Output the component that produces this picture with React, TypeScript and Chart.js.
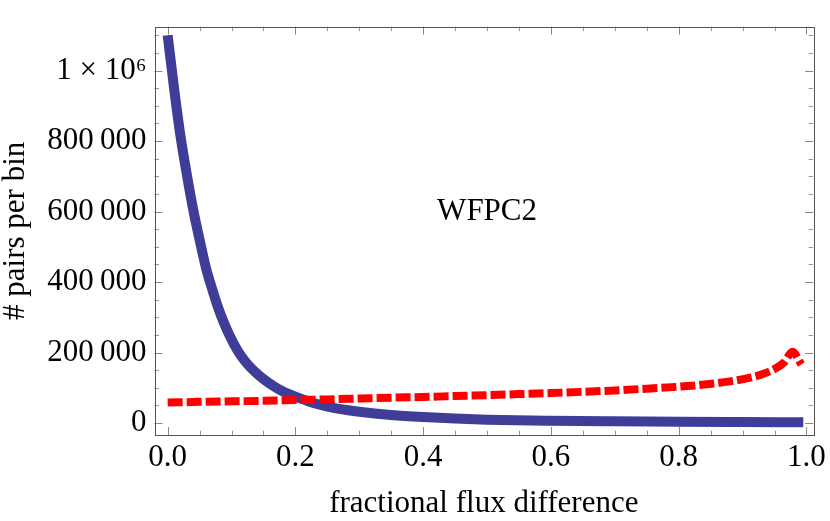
import React, { useEffect, useRef } from 'react';
import { Chart, registerables } from 'chart.js';

Chart.register(...registerables);

// ---- data ----
const blueX = [0, 0.01, 0.02, 0.03, 0.04, 0.05, 0.06, 0.07, 0.08, 0.09, 0.1, 0.11, 0.12, 0.13, 0.14, 0.15, 0.16, 0.17, 0.18, 0.19, 0.2, 0.22, 0.24, 0.26, 0.28, 0.3, 0.35, 0.4, 0.45, 0.5, 0.6, 0.7, 0.8, 0.9, 0.995];
const blueY = [1100000, 950000, 815000, 705000, 605000, 520000, 440000, 378000, 322000, 276000, 237000, 204000, 178000, 157000, 140000, 125000, 112000, 100000, 90000, 82000, 75000, 62000, 51000, 43000, 37000, 32000, 23000, 17000, 12500, 9500, 6500, 4800, 3600, 2700, 2000];

const redX = [0, 0.05, 0.1, 0.15, 0.2, 0.25, 0.3, 0.35, 0.4, 0.45, 0.5, 0.55, 0.6, 0.65, 0.7, 0.75, 0.8, 0.84, 0.88, 0.91, 0.93, 0.95, 0.965, 0.978, 0.992];
const redY = [58000, 60000, 61500, 63000, 65000, 67000, 69500, 72000, 74000, 76500, 79000, 82000, 85000, 88500, 92500, 97500, 103000, 109000, 118000, 128000, 138000, 153000, 172000, 202000, 166000];

const xMajorTicks = [0, 0.2, 0.4, 0.6, 0.8, 1.0];
const xTickLabels = ['0.0', '0.2', '0.4', '0.6', '0.8', '1.0'];
const xMinorTicks = [0.05, 0.1, 0.15, 0.25, 0.3, 0.35, 0.45, 0.5, 0.55, 0.65, 0.7, 0.75, 0.85, 0.9, 0.95];

const yMajorTicks = [0, 200000, 400000, 600000, 800000, 1000000];
const yTickLabels = ['0', '200\u2009000', '400\u2009000', '600\u2009000', '800\u2009000', '1 \u00d7 10\u2076'];
const yMinorTicks = [50000, 100000, 150000, 250000, 300000, 350000, 450000, 500000, 550000, 650000, 700000, 750000, 850000, 900000, 950000, 1050000, 1100000];

const xLimits = [-0.0206, 1.0104];
const yLimits = [-34000, 1124600];

const plotLabel = 'WFPC2';
const plotLabelPos = [0.5, 600000];

const xTitle = 'fractional flux difference';
const yTitle = '# pairs per bin';

const FONT = "'Liberation Serif', 'Times New Roman', serif";

const framePlugin = {
  id: 'mmaFrame',
  afterDatasetsDraw(chart: any) {
    const { ctx, chartArea: a, scales } = chart;
    const xs = scales.x;
    const ys = scales.y;
    ctx.save();
    const seg = (x1: number, y1: number, x2: number, y2: number) => {
      ctx.beginPath();
      ctx.moveTo(x1, y1);
      ctx.lineTo(x2, y2);
      ctx.stroke();
    };
    ctx.lineWidth = 1;
    const drawX = (v: number, len: number, color: string) => {
      ctx.strokeStyle = color;
      const px = Math.round(xs.getPixelForValue(v)) + 0.5;
      seg(px, a.bottom, px, a.bottom - len);
      seg(px, a.top, px, a.top + len);
    };
    const drawY = (v: number, len: number, color: string) => {
      ctx.strokeStyle = color;
      const py = Math.round(ys.getPixelForValue(v)) + 0.5;
      seg(a.left, py, a.left + len, py);
      seg(a.right, py, a.right - len, py);
    };
    xMinorTicks.forEach((v) => drawX(v, 4.5, '#999999'));
    xMajorTicks.forEach((v) => drawX(v, 8, '#888888'));
    yMinorTicks.forEach((v) => drawY(v, 4.5, '#999999'));
    yMajorTicks.forEach((v) => drawY(v, 8, '#888888'));

    ctx.strokeStyle = '#555555';
    ctx.strokeRect(Math.round(a.left) + 0.5, Math.round(a.top) + 0.5, Math.round(a.right - a.left), Math.round(a.bottom - a.top));

    ctx.fillStyle = '#000000';
    ctx.font = `31px ${FONT}`;
    ctx.textAlign = 'center';
    ctx.textBaseline = 'middle';
    ctx.fillText(plotLabel, xs.getPixelForValue(plotLabelPos[0]), ys.getPixelForValue(plotLabelPos[1]));
    ctx.restore();
  },
};

export default function App() {
  const ref = useRef<HTMLCanvasElement | null>(null);

  useEffect(() => {
    if (!ref.current) return;
    const chart = new Chart(ref.current, {
      type: 'line',
      data: {
        datasets: [
          {
            label: 'red',
            data: redX.map((x, i) => ({ x, y: redY[i] })),
            borderColor: '#ff0000',
            borderWidth: 8,
            borderDash: [15, 4],
            borderCapStyle: 'butt',
            borderJoinStyle: 'miter',
            pointRadius: 0,
            cubicInterpolationMode: 'monotone',
            fill: false,
            order: 0,
          },
          {
            label: 'blue',
            data: blueX.map((x, i) => ({ x, y: blueY[i] })),
            borderColor: 'rgb(64, 61, 153)',
            borderWidth: 10,
            borderCapStyle: 'butt',
            borderJoinStyle: 'round',
            pointRadius: 0,
            cubicInterpolationMode: 'monotone',
            fill: false,
            order: 1,
          },
        ],
      },
      options: {
        responsive: false,
        animation: false,
        events: [],
        layout: { padding: { top: 26, right: 13.3, left: 0, bottom: 0 } },
        plugins: { legend: { display: false }, tooltip: { enabled: false } },
        scales: {
          x: {
            type: 'linear',
            min: xLimits[0],
            max: xLimits[1],
            grid: { display: false, drawTicks: false },
            border: { display: false },
            afterBuildTicks: (s: any) => {
              s.ticks = xMajorTicks.map((v) => ({ value: v }));
            },
            afterFit: (s: any) => {
              s.height = 86;
            },
            ticks: {
              padding: 4,
              maxRotation: 0,
              autoSkip: false,
              color: '#000000',
              font: { family: FONT, size: 31 },
              callback: (v: any) => {
                const i = xMajorTicks.findIndex((t) => Math.abs(t - Number(v)) < 1e-9);
                return i >= 0 ? xTickLabels[i] : '';
              },
            },
            title: {
              display: true,
              text: xTitle,
              color: '#000000',
              font: { family: FONT, size: 31, lineHeight: 1 },
              padding: { top: 0, bottom: 2 },
            },
          },
          y: {
            type: 'linear',
            min: yLimits[0],
            max: yLimits[1],
            grid: { display: false, drawTicks: false },
            border: { display: false },
            afterBuildTicks: (s: any) => {
              s.ticks = yMajorTicks.map((v) => ({ value: v }));
            },
            afterFit: (s: any) => {
              s.width = 154.5;
            },
            ticks: {
              padding: 8,
              autoSkip: false,
              color: '#000000',
              font: { family: FONT, size: 31 },
              callback: (v: any) => {
                const i = yMajorTicks.findIndex((t) => Math.abs(t - Number(v)) < 1e-6);
                return i >= 0 ? yTickLabels[i] : '';
              },
            },
            title: {
              display: true,
              text: yTitle,
              color: '#000000',
              font: { family: FONT, size: 31, lineHeight: 1 },
              padding: { top: 0, bottom: 0 },
            },
          },
        },
      },
      plugins: [framePlugin],
    } as any);
    return () => chart.destroy();
  }, []);

  return (
    <div style={{ position: 'fixed', left: 0, top: 0, width: 830, height: 521, background: '#ffffff' }}>
      <canvas ref={ref} width={830} height={521} style={{ display: 'block' }} />
    </div>
  );
}
